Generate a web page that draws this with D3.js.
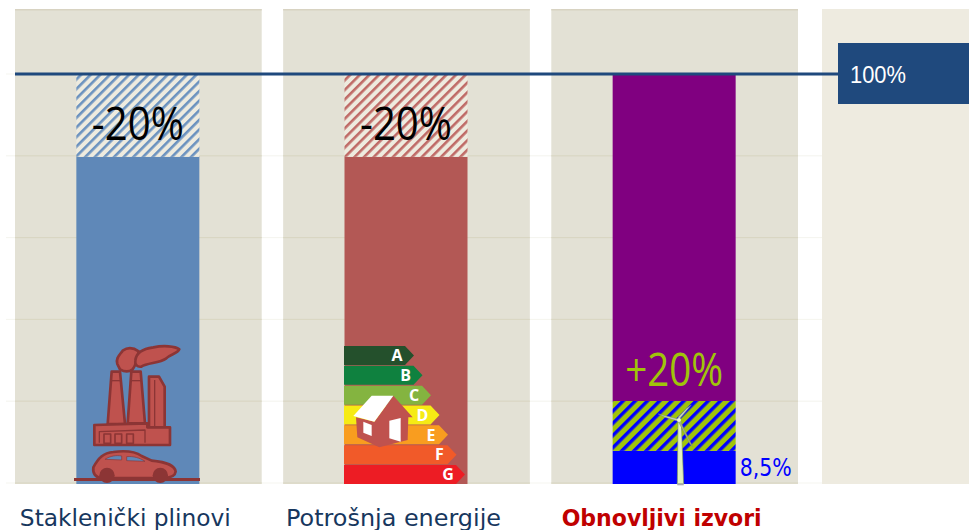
<!DOCTYPE html>
<html>
<head>
<meta charset="utf-8">
<script src="https://cdn.jsdelivr.net/npm/d3@7"></script>
<style>
  html, body { margin: 0; padding: 0; background: #fff; }
  svg { display: block; }
</style>
</head>
<body>
<div id="chart-container"></div>
<script>
const categories = ["Staklenički plinovi", "Potrošnja energije", "Obnovljivi izvori"];
const targetLabels = ["-20%", "-20%", "+20%"];
const gridValues = [0, 20, 40, 60, 80, 100];
const referenceValue = 100;
const referenceLabel = "100%";

// stacked pieces of each column
const ghgValues = [80, 20];
const energyValues = [80, 20];
const renewableValues = [8.1, 12.2, 79.7];
const renewableLabel = "8,5%";

const energyClasses = ["A", "B", "C", "D", "E", "F", "G"];
const energyColors = ["#24502c", "#0f813f", "#84b440", "#f6eb14", "#f99d1f", "#f15a29", "#ed1c24"];

const svgWidth = 969, svgHeight = 530;
const panelColor = "#e3e1d5";

const svg = d3.select("#chart-container").append("svg")
  .attr("width", svgWidth)
  .attr("height", svgHeight);

const x = d3.scaleBand().domain(categories).range([15, 798]).paddingInner(0.08);
const y = d3.scaleLinear().domain([0, 100]).range([484, 75]);
const barWidth = 123;
const barLeft = c => x(c) + (x.bandwidth() - barWidth) / 2 - 0.5;

// Hatch patterns
function addHatch(id, size, lineWidth, bg, fg) {
  const p = svg.append("defs").append("pattern")
    .attr("id", id)
    .attr("patternUnits", "userSpaceOnUse")
    .attr("width", size)
    .attr("height", size)
    .attr("patternTransform", "rotate(45)");
  p.append("rect").attr("width", size).attr("height", size).attr("fill", bg);
  p.append("rect").attr("width", lineWidth).attr("height", size).attr("fill", fg);
}
addHatch("hatchBlue", 6.8, 2.6, "#eeebdf", "#6b92bf");
addHatch("hatchRed", 6.8, 2.6, "#eeebdf", "#bf6a66");
addHatch("hatchGreen", 8.6, 3.4, "#a0c40a", "#0000ff");

// Background panels
svg.selectAll(".panel")
  .data(categories)
  .enter()
  .append("rect")
  .attr("class", "panel")
  .attr("x", d => x(d))
  .attr("y", 9)
  .attr("width", x.bandwidth())
  .attr("height", 475)
  .attr("fill", panelColor);

svg.append("rect")
  .attr("x", 822).attr("y", 9)
  .attr("width", 147).attr("height", 475)
  .attr("fill", "#eeebe0");

svg.selectAll(".panel-top")
  .data(categories)
  .enter()
  .append("rect")
  .attr("class", "panel-top")
  .attr("x", d => x(d))
  .attr("y", 9)
  .attr("width", x.bandwidth())
  .attr("height", 1.5)
  .attr("fill", "#d8d3c2");

// Gridlines, faint over the gaps and stronger on the panels
const grid = svg.append("g")
  .attr("transform", "translate(6, -1.5)")
  .call(d3.axisRight(y).tickValues(gridValues).tickSize(816).tickFormat(""));
grid.select(".domain").remove();
grid.selectAll("line").attr("stroke", "#dcd9c6").attr("stroke-opacity", 0.3).attr("stroke-width", 1);

categories.forEach(c => {
  const g = svg.append("g")
    .attr("transform", `translate(${x(c)}, -1.5)`)
    .call(d3.axisRight(y).tickValues(gridValues).tickSize(x.bandwidth()).tickFormat(""));
  g.select(".domain").remove();
  g.selectAll("line").attr("stroke", "#d9d6c2").attr("stroke-width", 1);
});

// Columns
const columns = [
  { cat: categories[0], values: ghgValues, fills: ["#5f88b8", "url(#hatchBlue)"] },
  { cat: categories[1], values: energyValues, fills: ["#b35855", "url(#hatchRed)"] },
  { cat: categories[2], values: renewableValues, fills: ["#0000ff", "url(#hatchGreen)", "#800080"] }
];
columns.forEach(col => {
  let start = 0;
  col.values.forEach((v, i) => {
    svg.append("rect")
      .attr("x", barLeft(col.cat))
      .attr("y", y(start + v))
      .attr("width", barWidth)
      .attr("height", y(start) - y(start + v))
      .attr("fill", col.fills[i]);
    start += v;
  });
});

// Factory and car, drawn in a 3x grid over the first column
const factory = svg.append("g")
  .attr("transform", "translate(60,330) scale(0.3333)")
  .attr("fill", "#bf524e")
  .attr("stroke", "#8c3535")
  .attr("stroke-width", 8)
  .attr("stroke-linejoin", "round");
factory.append("path").attr("d", "M172 102 C166 84 180 74 188 62 C205 50 222 54 236 64 C232 90 228 104 218 118 C205 128 190 124 180 118 Z");
factory.append("path").attr("d", "M226 92 C228 68 250 56 280 52 C310 46 345 48 358 58 C352 72 330 72 318 86 C298 100 262 98 244 110 C232 112 224 104 226 92 Z");
factory.append("path").attr("d", "M155 125 L180 125 L195 282 L143 282 Z");
factory.append("path").attr("d", "M214 125 L242 125 L255 280 L203 280 Z");
factory.selectAll(".band")
  .data([[152, 183], [211, 245]])
  .enter()
  .append("line")
  .attr("class", "band")
  .attr("x1", d => d[0]).attr("x2", d => d[1])
  .attr("y1", 152).attr("y2", 152)
  .attr("stroke-width", 4);
factory.append("path").attr("d", "M267 140 L297 140 L314 170 L314 295 L267 295 Z");
factory.append("path").attr("d", "M284 150 L284 288").attr("fill", "none").attr("stroke-width", 4);
factory.append("path").attr("d", "M103 285 L262 280 L262 292 L330 292 L330 345 L103 345 Z");
factory.append("path").attr("d", "M118 338 L118 305 L255 300 L255 338").attr("fill", "none").attr("stroke-width", 4);
factory.selectAll(".win")
  .data([132, 165, 200])
  .enter()
  .append("rect")
  .attr("class", "win")
  .attr("x", d => d).attr("y", 312)
  .attr("width", 20).attr("height", 28)
  .attr("stroke-width", 5);
factory.append("path").attr("d", "M100 412 C115 385 130 368 160 366 C190 362 225 364 245 378 L275 392 C310 395 345 405 347 425 C345 442 325 444 310 444 L125 444 C105 442 98 430 100 412 Z");
factory.append("path").attr("d", "M135 388 C150 378 170 375 185 378 L185 390 Z M200 380 C220 378 240 384 255 394 L200 392 Z")
  .attr("fill", "#5f88b8").attr("stroke-width", 2);
factory.selectAll(".wheel")
  .data([141, 301])
  .enter()
  .append("circle")
  .attr("class", "wheel")
  .attr("cx", d => d).attr("cy", 436)
  .attr("r", 23)
  .attr("fill", "#8c3535").attr("stroke", "none");
svg.append("line")
  .attr("x1", 74).attr("x2", 200)
  .attr("y1", 479.5).attr("y2", 479.5)
  .attr("stroke", "#8c3535").attr("stroke-width", 3);

// Energy class arrows
const classY = d3.scaleBand().domain(energyClasses).range([346, 484]).paddingInner(0.04);
const classTip = d3.scaleLinear().domain([0, energyClasses.length - 1]).range([414, 465]);
const classLeft = 344;
const arrows = svg.selectAll(".energy")
  .data(energyClasses)
  .enter()
  .append("g")
  .attr("class", "energy");
arrows.append("path")
  .attr("fill", (d, i) => energyColors[i])
  .attr("d", (d, i) => {
    const t = classY(d), h = classY.bandwidth(), tip = classTip(i);
    return `M${classLeft},${t}H${tip - 9}L${tip},${t + h / 2}L${tip - 9},${t + h}H${classLeft}Z`;
  });
arrows.append("text")
  .attr("x", (d, i) => classTip(i) - 17)
  .attr("y", d => classY(d) + classY.bandwidth() / 2)
  .attr("dy", ".36em")
  .attr("text-anchor", "middle")
  .attr("font-family", "'Open Sans', sans-serif")
  .attr("font-weight", 700)
  .attr("font-size", 16)
  .attr("fill", "#fff")
  .text(d => d);

// House on top of the arrows
const house = svg.append("g").attr("transform", "translate(330,330) scale(0.3333)");
house.append("path").attr("fill", "#bf524e")
  .attr("d", "M190 197 L248 262 L235 262 L233 330 L148 352 L82 322 L78 262 L133 275 Z");
house.append("path").attr("fill", "#fff").attr("d", "M70 258 L125 197 L190 197 L133 275 Z");
house.append("path").attr("fill", "#fff").attr("d", "M100 275 L125 285 L125 318 L100 308 Z");
house.append("path").attr("fill", "#fff").attr("d", "M178 272 L212 264 L212 335 L178 325 Z");

// Wind turbine
const turbine = svg.append("g").attr("transform", "translate(550,340) scale(0.3333)");
turbine.append("path").attr("fill", "#e2f0c0").attr("stroke", "#7d9a5a").attr("stroke-width", 2)
  .attr("d", "M384 245 L394 245 L401 432 L382 432 Z");
turbine.append("rect").attr("x", 382).attr("y", 430).attr("width", 19).attr("height", 6).attr("fill", "#aaa");
turbine.append("path").attr("fill", "#c8d8b4").attr("stroke", "#7d8f6a").attr("stroke-width", 1.5)
  .attr("d", "M388 238 L325 222 L345 232 L385 244 Z");
turbine.append("path").attr("fill", "#c8d8b4").attr("stroke", "#7d8f6a").attr("stroke-width", 1.5)
  .attr("d", "M388 238 L424 195 L410 205 L384 232 Z");
turbine.append("path").attr("fill", "#a8b878").attr("stroke", "#7d8f6a").attr("stroke-width", 1.5)
  .attr("d", "M390 242 L428 320 L420 312 L386 246 Z");
turbine.append("circle").attr("cx", 387).attr("cy", 240).attr("r", 6).attr("fill", "#eef4dc");

// Reference line and its label
svg.append("line")
  .attr("x1", 15).attr("x2", 838)
  .attr("y1", y(referenceValue) - 1).attr("y2", y(referenceValue) - 1)
  .attr("stroke", "#1f497d").attr("stroke-width", 3);
svg.append("rect")
  .attr("x", 838).attr("y", 43)
  .attr("width", 131).attr("height", 61)
  .attr("fill", "#1f497d");
svg.append("text")
  .attr("x", 850).attr("y", 83)
  .attr("font-family", "'Liberation Sans', sans-serif")
  .attr("font-size", 23)
  .attr("textLength", 56)
  .attr("lengthAdjust", "spacingAndGlyphs")
  .attr("fill", "#fff")
  .text(referenceLabel);

// Target labels
svg.selectAll(".target")
  .data(categories)
  .enter()
  .append("text")
  .attr("class", "target")
  .attr("x", d => barLeft(d) + barWidth / 2)
  .attr("y", (d, i) => i < 2 ? 140 : 386)
  .attr("text-anchor", "middle")
  .attr("font-family", "'Open Sans', sans-serif")
  .attr("font-size", 46)
  .attr("textLength", (d, i) => i < 2 ? 92 : 98)
  .attr("lengthAdjust", "spacingAndGlyphs")
  .attr("fill", (d, i) => i < 2 ? "#000" : "#a0c40a")
  .text((d, i) => targetLabels[i]);

svg.append("text")
  .attr("x", barLeft(categories[2]) + barWidth + 4)
  .attr("y", 476)
  .attr("font-family", "'DejaVu Sans', sans-serif")
  .attr("font-size", 25)
  .attr("textLength", 52)
  .attr("lengthAdjust", "spacingAndGlyphs")
  .attr("fill", "#0000ff")
  .text(renewableLabel);

// Category labels
svg.selectAll(".category")
  .data(categories)
  .enter()
  .append("text")
  .attr("class", "category")
  .attr("x", d => x(d) + x.bandwidth() / 2 - 13)
  .attr("y", 526)
  .attr("text-anchor", "middle")
  .attr("font-family", "'DejaVu Sans', sans-serif")
  .attr("font-size", 23)
  .attr("font-weight", (d, i) => i === 2 ? 700 : 400)
  .attr("textLength", (d, i) => [211, 215, 200][i])
  .attr("lengthAdjust", "spacingAndGlyphs")
  .attr("fill", (d, i) => i === 2 ? "#c00000" : "#17375e")
  .text(d => d);
</script>
</body>
</html>
